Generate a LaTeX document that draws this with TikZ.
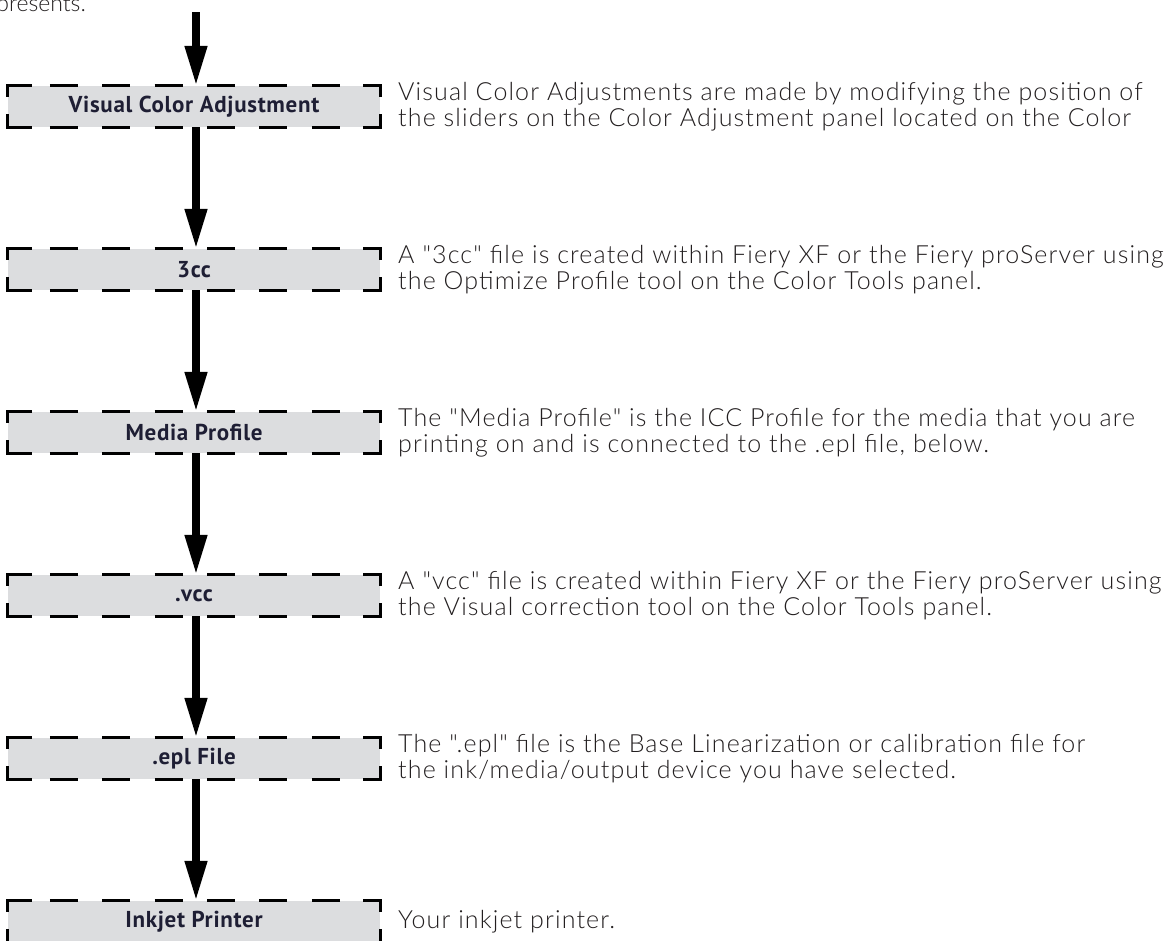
\documentclass[tikz,border=0pt]{standalone}
\usepackage{fontspec}
\usetikzlibrary{arrows.meta}
\IfFontExistsTF{Lato Light}{%
  \newfontfamily\descfont{Lato Light}[LetterSpace=4.5]%
  \newfontfamily\introfont{Lato Light}}{%
  \newfontfamily\descfont{Lato}[LetterSpace=4.5]%
  \newfontfamily\introfont{Lato}}
\newfontfamily\labelfont{PT Sans}[LetterSpace=3]
\definecolor{boxgray}{HTML}{DCDDDF}
\definecolor{labelcol}{HTML}{1E1E34}
\definecolor{desccol}{HTML}{231F20}
\newcommand\dashframe[1]{%
  \draw[edge] ([yshift=-11pt]#1.north west) -- (#1.north west) -- ([xshift=24pt]#1.north west);
  \draw[edge] ([xshift=-17pt]#1.north east) -- (#1.north east) -- ([yshift=-11pt]#1.north east);
  \draw[edge] ([yshift=13pt]#1.south west) -- (#1.south west) -- ([xshift=24pt]#1.south west);
  \draw[edge] ([xshift=-17pt]#1.south east) -- (#1.south east) -- ([yshift=13pt]#1.south east);
  \draw[dashedge] ([xshift=42pt]#1.north west) -- ([xshift=332pt]#1.north west);
  \draw[dashedge] ([xshift=42pt]#1.south west) -- ([xshift=332pt]#1.south west);
}
\begin{document}
\begin{tikzpicture}[x=1pt,y=-1pt,
  stepbox/.style={fill=boxgray, minimum width=372pt, minimum height=41pt, inner sep=0pt,
    font=\labelfont\bfseries\fontsize{23}{27}\selectfont, text=labelcol},
  desc/.style={anchor=west, align=left, inner sep=0pt,
    font=\descfont\fontsize{25}{26.5}\selectfont, text=desccol},
  flow/.style={line width=7.5pt, -{Triangle[length=40pt,width=21pt]}},
  edge/.style={line width=2.8pt, line join=miter},
  dashedge/.style={line width=2.8pt, dash pattern=on 28pt off 24.4pt}]
\useasboundingbox (0,0) rectangle (1170,940);
\clip (0,0) rectangle (1170,940);
\fill[white] (0,0) rectangle (1170,940);

\node[anchor=base east, inner sep=0pt, font=\introfont\fontsize{23}{26}\selectfont, text=desccol] (intro) at (86,11) {represents.};

\node[stepbox] (b1) at (194,106.5) {Visual Color Adjustment};
\node[stepbox] (b2) at (194,269.5) {3cc};
\node[stepbox] (b3) at (194,432.5) {Media Profile};
\node[stepbox] (b4) at (194,595.5) {.vcc};
\node[stepbox] (b5) at (194,758.5) {.epl File};
\node[stepbox] (b6) at (194,921.5) {Inkjet Printer};

\foreach \b in {b1,b2,b3,b4,b5,b6} {\dashframe{\b}}

\coordinate (start) at (196,12);
\draw[flow] (start) -- ([xshift=2pt]b1.north);
\draw[flow] ([xshift=2pt]b1.south) -- ([xshift=2pt]b2.north);
\draw[flow] ([xshift=2pt]b2.south) -- ([xshift=2pt]b3.north);
\draw[flow] ([xshift=2pt]b3.south) -- ([xshift=2pt]b4.north);
\draw[flow] ([xshift=2pt]b4.south) -- ([xshift=2pt]b5.north);
\draw[flow] ([xshift=2pt]b5.south) -- ([xshift=2pt]b6.north);

\node[desc] (d1) at (398,106.5) {Visual Color Adjustments are made by modifying the position of\\the sliders on the Color Adjustment panel located on the Color};
\node[desc] (d2) at (398,269.5) {A "3cc" file is created within Fiery XF or the Fiery proServer using\\the Optimize Profile tool on the Color Tools panel.};
\node[desc] (d3) at (398,432.5) {The "Media Profile" is the ICC Profile for the media that you are\\printing on and is connected to the .epl file, below.};
\node[desc] (d4) at (398,595.5) {A "vcc" file is created within Fiery XF or the Fiery proServer using\\the Visual correction tool on the Color Tools panel.};
\node[desc] (d5) at (398,758.5) {The ".epl" file is the Base Linearization or calibration file for\\the ink/media/output device you have selected.};
\node[desc] (d6) at (398,921.5) {Your inkjet printer.};
\end{tikzpicture}
\end{document}
